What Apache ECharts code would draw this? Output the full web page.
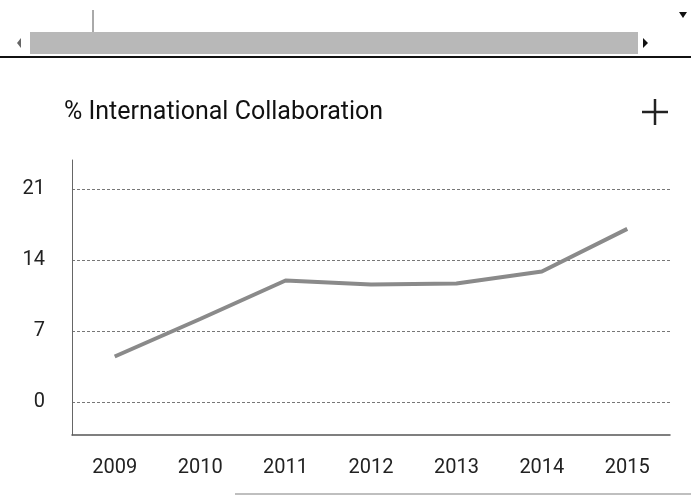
<!DOCTYPE html>
<html><head><meta charset="utf-8">
<script src="https://cdn.jsdelivr.net/npm/echarts@6/dist/echarts.min.js"></script>
<style>html,body{margin:0;padding:0;background:#fff}#c{width:691px;height:495px}</style>
</head><body><div id="c"></div>
<script>
var years = ['2009','2010','2011','2012','2013','2014','2015'];
var collab = [4.5, 8.2, 12.0, 11.6, 11.7, 12.9, 17.1];
var yTicks = [0, 7, 14, 21];

var chart = echarts.init(document.getElementById('c'), null, {renderer:'canvas'});
chart.setOption({
  animation:false,
  backgroundColor:'#fff',
  title:{text:'% International Collaboration', left:59, top:95,
    textStyle:{fontFamily:'Roboto', fontSize:25, fontWeight:'normal', color:'#111'}},
  grid:{left:72, right:21, top:160, bottom:60},
  xAxis:{type:'category', data:years, boundaryGap:true,
    axisLine:{onZero:false, lineStyle:{color:'#555', width:1.5}},
    axisTick:{show:false},
    axisLabel:{fontFamily:'Roboto', fontSize:20, color:'#222', margin:23}},
  yAxis:{type:'value', min:-3.25, max:23.9,
    axisLine:{show:true, lineStyle:{color:'#666', width:1}},
    axisTick:{show:false, customValues:yTicks},
    axisLabel:{customValues:yTicks, fontFamily:'Roboto', fontSize:20, color:'#222', margin:27},
    splitLine:{show:true, lineStyle:{color:'#777', type:[3,2], width:1}}},
  series:[{type:'line', data:collab, symbol:'none',
    lineStyle:{color:'#8a8a8a', width:4}}],
  graphic:[
    {type:'rect', shape:{x:30,y:32,width:608,height:22}, style:{fill:'#b8b8b8'}},
    {type:'line', shape:{x1:0,y1:57,x2:691,y2:57}, style:{stroke:'#111', lineWidth:2}},
    {type:'line', shape:{x1:93,y1:10,x2:93,y2:32}, style:{stroke:'#555', lineWidth:1}},
    {type:'polygon', shape:{points:[[17,43],[21,38],[21,48]]}, style:{fill:'#666'}},
    {type:'polygon', shape:{points:[[643,38],[643,48],[648,43]]}, style:{fill:'#111'}},
    {type:'polygon', shape:{points:[[679,12],[687,12],[683,18]]}, style:{fill:'#111'}},
    {type:'line', shape:{x1:655,y1:99,x2:655,y2:125}, style:{stroke:'#222', lineWidth:2.5}},
    {type:'line', shape:{x1:642,y1:112,x2:668,y2:112}, style:{stroke:'#222', lineWidth:2.5}},
    {type:'line', shape:{x1:235,y1:494,x2:691,y2:494}, style:{stroke:'#aaa', lineWidth:1.5}}
  ]
});
</script></body></html>
